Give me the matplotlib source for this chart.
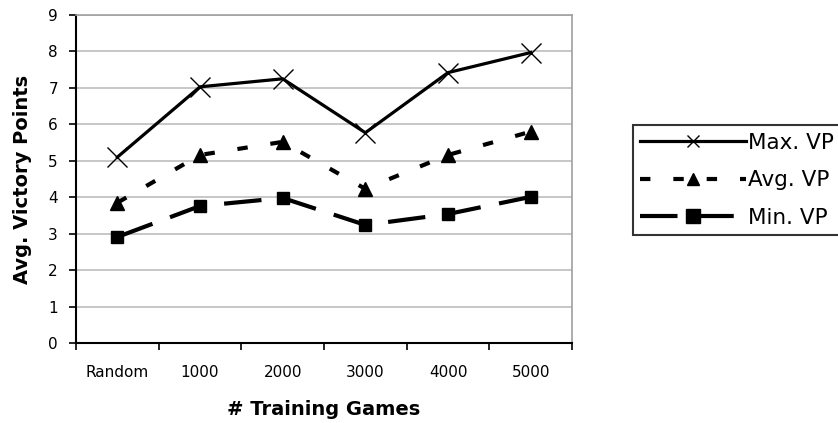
import matplotlib.pyplot as plt

# Data
categories = ["Random", "1000", "2000", "3000", "4000", "5000"]
max_vp = [5.1, 7.03, 7.25, 5.77, 7.42, 7.97]
avg_vp = [3.85, 5.16, 5.52, 4.23, 5.16, 5.8]
min_vp = [2.91, 3.76, 3.98, 3.24, 3.54, 4.01]

plt.rcParams['font.family'] = ['DejaVu Sans']

fig = plt.figure(figsize=(8.38, 4.23), dpi=100)
ax = fig.add_axes([0.0907, 0.189, 0.5919, 0.7755])

x = list(range(len(categories)))
ax.plot(x, max_vp, color='black', lw=2.3, marker='x', markersize=15,
        markeredgewidth=1.0, label='Max. VP')
ax.plot(x, avg_vp, color='black', lw=3, dashes=(2.5, 5.5), marker='^',
        markersize=9.5, label='Avg. VP')
ax.plot(x, min_vp, color='black', lw=3, dashes=(9, 4.5), marker='s',
        markersize=9, label='Min. VP')

ax.set_xlim(-0.5, 5.5)
ax.set_ylim(0, 9)
ax.set_yticks(range(10))
ax.set_xticks([i - 0.5 for i in range(7)], minor=False)
ax.set_xticklabels([])
ax.set_xticks(x, minor=True)
ax.set_xticklabels(categories, minor=True)
ax.tick_params(axis='x', which='minor', length=0, pad=16, labelsize=11)
ax.tick_params(axis='x', which='major', length=5, width=1.2, direction='out')
ax.tick_params(axis='y', length=5, width=1.2, direction='out', labelsize=11, pad=8)

ax.grid(axis='y', color='#bdbdbd', lw=1.2)
ax.set_axisbelow(True)
for side in ['top', 'right']:
    ax.spines[side].set_color('#a0a0a0')
    ax.spines[side].set_linewidth(1.2)
for side in ['left', 'bottom']:
    ax.spines[side].set_linewidth(1.5)

ax.set_ylabel("Avg. Victory Points", fontsize=14, fontweight='bold', labelpad=12)
ax.set_xlabel("# Training Games", fontsize=14, fontweight='bold', labelpad=14)

leg = fig.legend(loc='upper left', bbox_to_anchor=(0.755, 0.7045),
                 fontsize=15.5, handlelength=4.9, frameon=True, fancybox=False,
                 borderaxespad=0, handletextpad=0.1, labelspacing=0.82,
                 borderpad=0.35)
leg.get_frame().set_edgecolor('black')
leg.get_frame().set_linewidth(1.5)
# legend markers are smaller than the ones on the plot
for h, ms in zip(leg.legend_handles, [8, 9, 10]):
    h.set_markersize(ms)

fig.savefig("out.png", dpi=100)
